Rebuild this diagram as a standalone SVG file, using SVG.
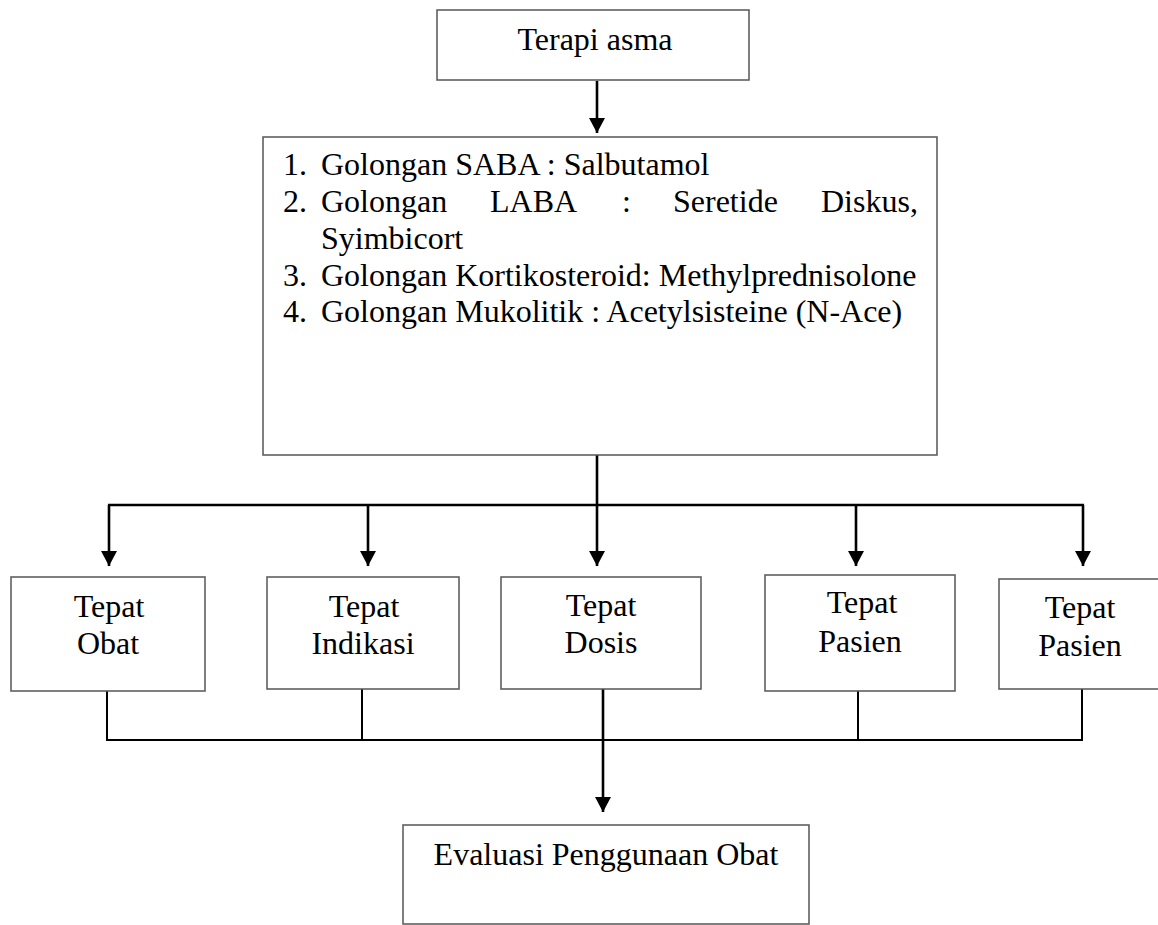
<svg xmlns="http://www.w3.org/2000/svg" width="1158" height="925" viewBox="0 0 1158 925">
<style>
  .box { fill: #ffffff; stroke: #555555; stroke-width: 1.5; }
  .t { font-family: "Liberation Serif", "Times New Roman", serif; font-size: 32px; fill: #000000; }
  .c { text-anchor: middle; }
  .arr { stroke: #000000; stroke-width: 2.6; fill: none; }
  .ln { stroke: #000000; stroke-width: 2; fill: none; }
</style>
<defs>
  <marker id="ah" markerUnits="userSpaceOnUse" markerWidth="16" markerHeight="16" refX="15" refY="8" orient="auto" viewBox="0 0 16 16">
    <path d="M0,0 L15,8 L0,16 Z" fill="#000000"/>
  </marker>
</defs>
<rect width="1158" height="925" fill="#ffffff"/>

<g id="connectors">
  <line class="arr" x1="597" y1="81" x2="597" y2="133" marker-end="url(#ah)"/>
  <line class="arr" x1="597" y1="455" x2="597" y2="566" marker-end="url(#ah)"/>
  <line class="arr" x1="108" y1="505" x2="1084" y2="505"/>
  <line class="arr" x1="109" y1="505" x2="109" y2="566" marker-end="url(#ah)"/>
  <line class="arr" x1="368" y1="505" x2="368" y2="566" marker-end="url(#ah)"/>
  <line class="arr" x1="856" y1="505" x2="856" y2="566" marker-end="url(#ah)"/>
  <line class="arr" x1="1083" y1="505" x2="1083" y2="566" marker-end="url(#ah)"/>
  <line class="ln" x1="107" y1="691" x2="107" y2="740"/>
  <line class="ln" x1="362" y1="689" x2="362" y2="740"/>
  <line class="ln" x1="858" y1="691" x2="858" y2="740"/>
  <line class="ln" x1="1082" y1="689" x2="1082" y2="740"/>
  <line class="ln" x1="106" y1="740" x2="1083" y2="740"/>
  <line class="arr" x1="603" y1="689" x2="603" y2="812" marker-end="url(#ah)"/>
</g>

<g id="node-terapi">
  <rect class="box" x="437" y="10" width="312" height="70"/>
  <text class="t c" x="595" y="50">Terapi asma</text>
</g>

<g id="node-golongan">
  <rect class="box" x="263" y="137" width="674" height="318"/>
  <text class="t" x="283" y="175">1.</text>
  <text class="t" x="321" y="175">Golongan SABA : Salbutamol</text>
  <text class="t" x="283" y="212">2.</text>
  <text class="t" x="321" y="212">Golongan</text>
  <text class="t" x="490" y="212">LABA</text>
  <text class="t" x="622" y="212">:</text>
  <text class="t" x="673" y="212">Seretide</text>
  <text class="t" x="821" y="212">Diskus,</text>
  <text class="t" x="321" y="249">Syimbicort</text>
  <text class="t" x="283" y="286">3.</text>
  <text class="t" x="321" y="286">Golongan Kortikosteroid: Methylprednisolone</text>
  <text class="t" x="283" y="322">4.</text>
  <text class="t" x="321" y="322">Golongan Mukolitik : Acetylsisteine (N-Ace)</text>
</g>

<g id="node-obat">
  <rect class="box" x="11" y="577" width="194" height="114"/>
  <text class="t c" x="109" y="617">Tepat</text>
  <text class="t c" x="108" y="654">Obat</text>
</g>

<g id="node-indikasi">
  <rect class="box" x="267" y="577" width="192" height="112"/>
  <text class="t c" x="364" y="617">Tepat</text>
  <text class="t c" x="363" y="654">Indikasi</text>
</g>

<g id="node-dosis">
  <rect class="box" x="501" y="577" width="200" height="112"/>
  <text class="t c" x="601" y="616">Tepat</text>
  <text class="t c" x="601" y="653">Dosis</text>
</g>

<g id="node-pasien1">
  <rect class="box" x="765" y="575" width="190" height="116"/>
  <text class="t c" x="862" y="613">Tepat</text>
  <text class="t c" x="860" y="652">Pasien</text>
</g>

<g id="node-pasien2">
  <rect class="box" x="999" y="579" width="175" height="110"/>
  <text class="t c" x="1080" y="618">Tepat</text>
  <text class="t c" x="1080" y="656">Pasien</text>
</g>

<g id="node-evaluasi">
  <rect class="box" x="403" y="825" width="406" height="99"/>
  <text class="t c" x="606" y="865">Evaluasi Penggunaan Obat</text>
</g>
</svg>
